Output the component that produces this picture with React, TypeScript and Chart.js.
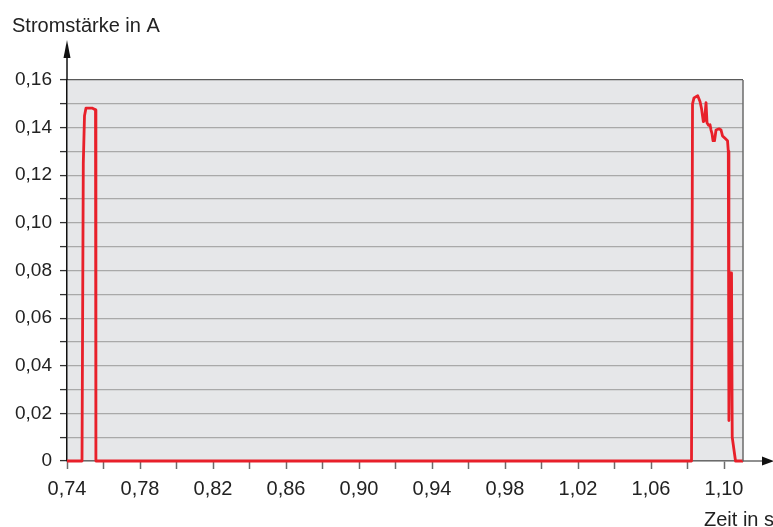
import { useEffect, useRef } from 'react';
import { Chart, registerables } from 'chart.js';

Chart.register(...registerables);

// Messwerte: Zeit in s
const timeS = [
  0.74, 0.74822, 0.74893, 0.74959, 0.75041, 0.7537, 0.75479, 0.75562, 0.75584,
  1.08219, 1.08274, 1.08356, 1.08559, 1.08685, 1.08767, 1.08866, 1.08932, 1.09014,
  1.09068, 1.09151, 1.09233, 1.09288, 1.09342, 1.09397, 1.09479, 1.09562, 1.09726,
  1.09836, 1.09918, 1.10055, 1.10192, 1.10235, 1.10268, 1.10345, 1.10411, 1.1045,
  1.1063, 1.1104,
];

// Messwerte: Stromstärke in A
const currentA = [
  0, 0, 0.125, 0.145, 0.1482, 0.1482, 0.1478, 0.1474, 0,
  0, 0.15, 0.1525, 0.1534, 0.151, 0.148, 0.1425, 0.143, 0.1505,
  0.142, 0.141, 0.1412, 0.139, 0.1375, 0.1345, 0.1345, 0.139, 0.1395,
  0.139, 0.1365, 0.1355, 0.1345, 0.13, 0.017, 0.079, 0.079, 0.01,
  0, 0,
];

// Achsen
const xMin = 0.74;
const xMax = 1.1104;
const xTicks = [
  0.74, 0.76, 0.78, 0.8, 0.82, 0.84, 0.86, 0.88, 0.9, 0.92,
  0.94, 0.96, 0.98, 1.0, 1.02, 1.04, 1.06, 1.08, 1.1,
];
const xLabelTicks = [0.74, 0.78, 0.82, 0.86, 0.9, 0.94, 0.98, 1.02, 1.06, 1.1];
const yTicks = [
  0, 0.01, 0.02, 0.03, 0.04, 0.05, 0.06, 0.07, 0.08,
  0.09, 0.1, 0.11, 0.12, 0.13, 0.14, 0.15, 0.16,
];
const yLabelTicks = [0, 0.02, 0.04, 0.06, 0.08, 0.1, 0.12, 0.14, 0.16];

const yTitle = 'Stromstärke in A';
const xTitle = 'Zeit in s';

const FONT = '"Liberation Sans", Arial, Helvetica, sans-serif';

const fmt = (v: number) => (v === 0 ? '0' : v.toFixed(2).replace('.', ','));
const has = (list: number[], v: number) => list.some((t) => Math.abs(t - v) < 1e-6);

const framePlugin = {
  id: 'frame',
  beforeDraw(chart: any) {
    const { ctx, chartArea: a } = chart;
    ctx.save();
    ctx.fillStyle = '#ffffff';
    ctx.fillRect(0, 0, chart.width, chart.height);
    ctx.fillStyle = '#e6e7e9';
    ctx.fillRect(a.left, a.top, a.right - a.left, a.bottom - a.top);
    ctx.restore();
  },
  afterDraw(chart: any) {
    const { ctx, chartArea: a } = chart;
    ctx.save();
    // rechter Rahmen
    ctx.strokeStyle = '#6b6b6b';
    ctx.lineWidth = 1.5;
    ctx.beginPath();
    ctx.moveTo(a.right, a.top);
    ctx.lineTo(a.right, a.bottom);
    ctx.stroke();

    // x-Achse verlängert mit Pfeil
    ctx.beginPath();
    ctx.moveTo(a.right, a.bottom);
    ctx.lineTo(chart.width - 6, a.bottom);
    ctx.stroke();
    ctx.fillStyle = '#111';
    ctx.beginPath();
    ctx.moveTo(chart.width + 1, a.bottom);
    ctx.lineTo(chart.width - 11, a.bottom - 4.5);
    ctx.lineTo(chart.width - 11, a.bottom + 4.5);
    ctx.closePath();
    ctx.fill();

    // y-Achse verlängert mit Pfeil
    ctx.strokeStyle = '#111';
    ctx.beginPath();
    ctx.moveTo(a.left, a.top);
    ctx.lineTo(a.left, 52);
    ctx.stroke();
    ctx.beginPath();
    ctx.moveTo(a.left, 40);
    ctx.lineTo(a.left - 3.5, 58);
    ctx.lineTo(a.left + 3.5, 58);
    ctx.closePath();
    ctx.fill();

    // Achsentitel
    ctx.fillStyle = '#222';
    ctx.font = `20px ${FONT}`;
    ctx.textAlign = 'left';
    ctx.textBaseline = 'alphabetic';
    ctx.fillText(yTitle, 12, 32);
    ctx.fillText(xTitle, 704, 526);
    ctx.restore();
  },
};

export default function App() {
  const ref = useRef<HTMLCanvasElement>(null);

  useEffect(() => {
    if (!ref.current) return;
    const chart = new Chart(ref.current, {
      type: 'line',
      data: {
        datasets: [
          {
            data: timeS.map((t, i) => ({ x: t, y: currentA[i] })),
            borderColor: '#e8202a',
            borderWidth: 2.8,
            pointRadius: 0,
            tension: 0,
            fill: false,
            clip: false as any,
            borderJoinStyle: 'round',
          },
        ],
      },
      options: {
        responsive: false,
        animation: false,
        devicePixelRatio: 1,
        layout: { padding: { left: 0, top: 80, right: 30, bottom: 0 } },
        plugins: {
          legend: { display: false },
          tooltip: { enabled: false },
        },
        scales: {
          x: {
            type: 'linear',
            min: xMin,
            max: xMax,
            afterBuildTicks: (s: any) => {
              s.ticks = xTicks.map((v) => ({ value: v }));
            },
            afterFit: (s: any) => {
              s.height = 66;
            },
            ticks: {
              autoSkip: false,
              maxRotation: 0,
              padding: 8,
              color: '#222',
              font: { family: FONT, size: 20 },
              callback: (v: any) => (has(xLabelTicks, Number(v)) ? fmt(Number(v)) : ''),
            },
            grid: {
              drawOnChartArea: false,
              drawTicks: true,
              tickLength: 8,
              tickColor: '#6b6b6b',
              tickWidth: 1.5,
            },
            border: { color: '#6b6b6b', width: 1.5 },
          },
          y: {
            type: 'linear',
            min: 0,
            max: 0.16,
            afterBuildTicks: (s: any) => {
              s.ticks = yTicks.map((v) => ({ value: v }));
            },
            afterFit: (s: any) => {
              s.width = 67;
            },
            ticks: {
              autoSkip: false,
              padding: 8,
              color: '#222',
              font: { family: FONT, size: 19 },
              callback: (v: any) => (has(yLabelTicks, Number(v)) ? fmt(Number(v)) : ''),
            },
            grid: {
              color: (c: any) =>
                c.tick && Math.abs(c.tick.value - 0.16) < 1e-6 ? '#5a5a5a' : '#a9a9a9',
              lineWidth: 1.2,
              tickLength: 7,
              tickColor: '#333',
              tickWidth: 1.3,
            },
            border: { color: '#111', width: 1.5 },
          },
        },
      },
      plugins: [framePlugin],
    });
    return () => chart.destroy();
  }, []);

  return (
    <div style={{ position: 'absolute', left: 0, top: 0, width: 773, height: 527 }}>
      <canvas ref={ref} width={773} height={527} />
    </div>
  );
}
